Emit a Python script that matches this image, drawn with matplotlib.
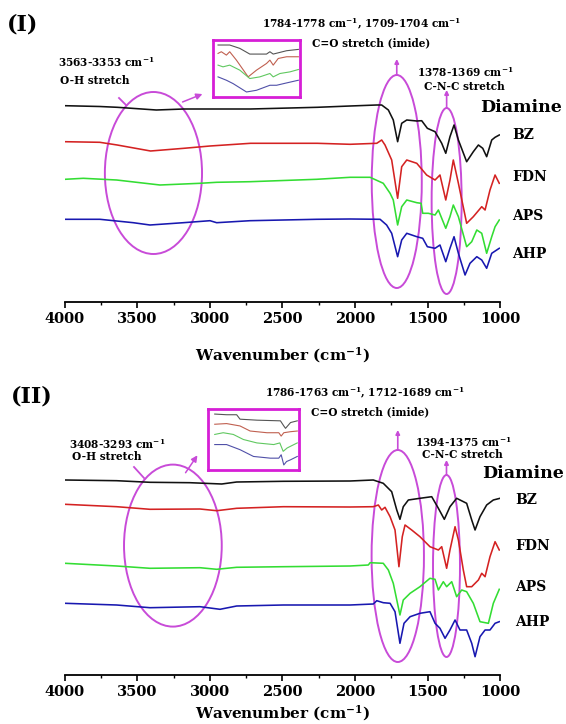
import matplotlib
matplotlib.use("Agg")
import matplotlib.pyplot as plt
from matplotlib.patches import Ellipse, FancyArrowPatch
from matplotlib.ticker import MultipleLocator

plt.rcParams["font.family"] = ["DejaVu Serif"]
plt.rcParams["mathtext.default"] = "regular"

# ---------------- FTIR spectra (wavenumber, offset transmittance a.u.) ----------------
# Panel (I)
BZ1_WN = [4000, 3760, 3640, 3370, 3180, 3000, 2720, 2260, 2034, 1850, 1816, 1770, 1736, 1706,
          1678, 1643, 1574, 1540, 1501, 1448, 1402, 1374, 1345, 1317, 1287, 1230, 1184, 1149,
          1119, 1092, 1057, 1034, 1005]
BZ1_T = [196.3, 195.5, 194.7, 192.0, 193.0, 193.0, 193.0, 194.7, 196.0, 197.0, 197.0, 192.0,
         182.0, 160.3, 178.7, 182.0, 181.0, 181.3, 173.7, 170.3, 158.7, 148.7, 165.3, 177.0,
         162.0, 140.3, 150.3, 157.0, 153.7, 145.3, 162.0, 164.7, 167.0]

FDN1_WN = [4000, 3760, 3640, 3410, 3180, 3000, 2720, 2260, 2034, 1850, 1816, 1793, 1747, 1706,
           1678, 1643, 1574, 1506, 1448, 1414, 1374, 1345, 1322, 1287, 1230, 1184, 1126, 1103,
           1069, 1034, 1005]
FDN1_T = [160.3, 159.7, 157.0, 151.0, 153.7, 156.0, 158.7, 158.7, 157.7, 158.7, 162.0, 157.0,
          142.0, 103.7, 135.3, 142.0, 138.7, 127.0, 122.0, 127.0, 102.0, 122.0, 142.0, 118.7,
          78.7, 85.3, 95.3, 92.0, 112.0, 127.0, 118.7]

APS1_WN = [4000, 3874, 3644, 3345, 3069, 2954, 2724, 2264, 2034, 1896, 1805, 1758, 1736, 1706,
           1678, 1643, 1574, 1544, 1533, 1494, 1448, 1425, 1374, 1345, 1322, 1287, 1230, 1195,
           1160, 1126, 1092, 1057, 1034, 1005]
APS1_T = [122.7, 123.7, 122.0, 117.0, 118.7, 119.7, 120.3, 122.7, 124.7, 124.7, 118.7, 108.7,
          102.0, 77.0, 95.3, 102.0, 99.3, 98.7, 88.7, 88.7, 87.0, 92.0, 73.7, 85.3, 97.0, 85.3,
          55.3, 60.3, 72.0, 68.7, 48.7, 65.3, 75.3, 82.0]

AHP1_WN = [4000, 3759, 3529, 3414, 3184, 3000, 2954, 2724, 2264, 2034, 1827, 1782, 1747, 1706,
           1678, 1643, 1574, 1533, 1501, 1448, 1414, 1374, 1345, 1317, 1287, 1241, 1207, 1160,
           1126, 1092, 1057, 1005]
AHP1_T = [82.7, 82.7, 79.3, 77.0, 79.3, 81.3, 79.3, 81.3, 82.7, 83.0, 82.7, 77.0, 68.7, 45.3,
          62.0, 68.7, 65.3, 63.7, 55.3, 53.7, 57.0, 40.3, 53.7, 65.3, 48.7, 27.0, 38.7, 45.3,
          42.0, 33.7, 48.7, 53.7]

# Panel (II)
BZ2_WN = [4000, 3644, 3414, 3138, 2919, 2816, 2494, 2034, 1874, 1805, 1747, 1712, 1690, 1667,
          1632, 1552, 1471, 1425, 1384, 1345, 1299, 1230, 1195, 1172, 1138, 1092, 1046, 1000]
BZ2_T = [195.0, 194.3, 192.7, 192.3, 191.0, 193.0, 193.7, 194.0, 195.0, 191.7, 183.3, 165.0,
         155.7, 168.3, 175.0, 176.7, 178.3, 166.7, 155.7, 168.3, 176.7, 171.7, 155.0, 145.0,
         158.3, 170.0, 175.0, 176.7]

FDN2_WN = [4000, 3644, 3414, 3069, 2954, 2816, 2494, 2034, 1874, 1839, 1816, 1793, 1758, 1724,
           1697, 1674, 1655, 1609, 1552, 1483, 1425, 1402, 1368, 1345, 1310, 1287, 1253, 1230,
           1195, 1149, 1126, 1103, 1069, 1034, 1005]
FDN2_T = [170.7, 168.3, 165.7, 166.0, 164.3, 166.7, 168.3, 168.0, 168.3, 170.0, 165.0, 167.7,
          158.3, 145.0, 108.3, 138.3, 150.0, 145.0, 138.3, 128.3, 125.0, 128.3, 106.7, 125.0,
          148.3, 135.0, 105.0, 88.3, 88.3, 95.0, 101.7, 98.3, 118.3, 133.3, 125.0]

APS2_WN = [4000, 3644, 3414, 3069, 2954, 2816, 2494, 2034, 1908, 1896, 1805, 1770, 1736, 1690,
           1667, 1620, 1552, 1483, 1448, 1425, 1391, 1368, 1333, 1299, 1264, 1230, 1184, 1138,
           1080, 1046, 1005]
APS2_T = [111.7, 109.0, 106.7, 107.3, 105.7, 107.7, 108.3, 109.0, 110.0, 112.3, 111.7, 105.0,
          91.7, 60.0, 75.0, 81.7, 88.3, 96.7, 95.7, 85.0, 93.3, 88.3, 93.3, 78.3, 85.0, 83.3,
          71.7, 53.3, 51.7, 71.7, 85.7]

AHP2_WN = [4000, 3644, 3414, 3069, 2931, 2816, 2494, 2034, 1874, 1850, 1805, 1758, 1724, 1690,
           1662, 1620, 1552, 1483, 1448, 1414, 1379, 1345, 1310, 1276, 1230, 1195, 1172, 1138,
           1103, 1069, 1034, 1005]
AHP2_T = [71.7, 70.0, 67.3, 68.3, 65.7, 69.0, 70.0, 70.0, 71.0, 74.3, 72.3, 71.7, 63.3, 31.7,
          51.7, 58.3, 61.7, 63.3, 51.7, 46.7, 36.7, 45.0, 55.0, 45.0, 45.0, 31.7, 18.3, 38.3,
          45.0, 45.0, 51.7, 53.3]

# Magnified O-H region shown in the insets (normalised position, normalised signal)
INS1_BZ_U = [0.058, 0.192, 0.308, 0.423, 0.615, 0.654, 0.692, 0.846, 0.981]
INS1_BZ_V = [0.912, 0.912, 0.853, 0.753, 0.753, 0.794, 0.753, 0.812, 0.835]
INS1_FDN_U = [0.058, 0.096, 0.154, 0.192, 0.269, 0.404, 0.5, 0.615, 0.654, 0.692, 0.75, 0.846, 0.981]
INS1_FDN_V = [0.765, 0.794, 0.735, 0.794, 0.647, 0.353, 0.471, 0.588, 0.647, 0.559, 0.676, 0.706, 0.706]
INS1_APS_U = [0.058, 0.115, 0.192, 0.308, 0.423, 0.538, 0.654, 0.692, 0.769, 0.885, 0.981]
INS1_APS_V = [0.559, 0.529, 0.559, 0.471, 0.324, 0.353, 0.412, 0.353, 0.412, 0.441, 0.482]
INS1_AHP_U = [0.058, 0.154, 0.231, 0.385, 0.5, 0.654, 0.731, 0.846, 0.981]
INS1_AHP_V = [0.353, 0.294, 0.235, 0.088, 0.118, 0.206, 0.206, 0.247, 0.294]

INS2_BZ_U = [0.074, 0.204, 0.315, 0.352, 0.537, 0.796, 0.833, 0.852, 0.907, 0.981]
INS2_BZ_V = [0.917, 0.906, 0.906, 0.833, 0.817, 0.806, 0.722, 0.683, 0.778, 0.806]
INS2_FDN_U = [0.074, 0.204, 0.352, 0.463, 0.648, 0.778, 0.804, 0.833, 0.907, 0.981]
INS2_FDN_V = [0.75, 0.761, 0.722, 0.639, 0.611, 0.611, 0.556, 0.611, 0.628, 0.639]
INS2_APS_U = [0.074, 0.167, 0.278, 0.389, 0.537, 0.722, 0.789, 0.826, 0.87, 0.907, 0.981]
INS2_APS_V = [0.583, 0.611, 0.583, 0.5, 0.444, 0.417, 0.444, 0.306, 0.361, 0.389, 0.444]
INS2_AHP_U = [0.074, 0.204, 0.352, 0.5, 0.685, 0.778, 0.804, 0.833, 0.863, 0.907, 0.981]
INS2_AHP_V = [0.417, 0.417, 0.333, 0.222, 0.194, 0.194, 0.25, 0.083, 0.139, 0.167, 0.222]

DIAMINES = ["BZ", "FDN", "APS", "AHP"]
TICKS = [4000, 3500, 3000, 2500, 2000, 1500, 1000]

# ---------------- styling ----------------
COLORS = ["#111111", "#D42222", "#33DD33", "#1818B0"]
INSET_COLORS = ["#555555", "#C06050", "#60C860", "#5050A8"]
MAG = "#C84BD8"
BOX = "#D61ED6"

W, H = 566, 724
fig = plt.figure(figsize=(W / 100, H / 100), dpi=100)


def fig_xy(x, y):
    return x / W, 1 - y / H


def panel_axes(top, bottom):
    ax = fig.add_axes([65 / W, 1 - bottom / H, 435 / W, (bottom - top) / H])
    ax.set_xlim(4000, 1000)
    ax.set_ylim(0, bottom - top)
    for s in ("left", "right", "top"):
        ax.spines[s].set_visible(False)
    ax.spines["bottom"].set_linewidth(1.3)
    ax.set_yticks([])
    ax.set_xticks(TICKS)
    ax.set_xticklabels([str(t) for t in TICKS])
    ax.xaxis.set_minor_locator(MultipleLocator(250))
    ax.tick_params(axis="x", which="major", direction="out", length=4, width=1.2,
                   labelsize=10.5, pad=3)
    ax.tick_params(axis="x", which="minor", direction="out", length=2.5, width=1.0)
    for lbl in ax.get_xticklabels():
        lbl.set_fontweight("bold")
    return ax


def inset(box, series):
    x0, y0, x1, y1 = box
    ia = fig.add_axes([x0 / W, 1 - y1 / H, (x1 - x0) / W, (y1 - y0) / H])
    ia.set_xlim(0, 1)
    ia.set_ylim(0, 1)
    ia.set_xticks([])
    ia.set_yticks([])
    for s in ia.spines.values():
        s.set_color(BOX)
        s.set_linewidth(2.0)
    for (u, v), c in zip(series, INSET_COLORS):
        ia.plot(u, v, color=c, lw=0.8)
    return ia


def ftext(x, y, s, **kw):
    kw.setdefault("fontsize", 7.6)
    kw.setdefault("fontweight", "bold")
    kw.setdefault("va", "center")
    fig.text(*fig_xy(x, y), s, **kw)


def arrow_fig(p0, p1):
    fig.add_artist(FancyArrowPatch(
        (p0[0] / W, 1 - p0[1] / H), (p1[0] / W, 1 - p1[1] / H),
        transform=fig.transFigure, arrowstyle="-|>", mutation_scale=9,
        color=MAG, lw=1.1))


def draw_panel(ax, spectra, ellipses, arrows):
    for (wn, t), c in zip(spectra, COLORS):
        ax.plot(wn, t, color=c, lw=1.15)
    for (cx, cy, w, h) in ellipses:
        ax.add_patch(Ellipse((cx, cy), w, h, fill=False, edgecolor=MAG, lw=1.4,
                             clip_on=False))
    for (wn, h0, h1) in arrows:
        ax.annotate("", xy=(wn, h1), xytext=(wn, h0), annotation_clip=False,
                    arrowprops=dict(arrowstyle="-|>", color=MAG, lw=1.2, mutation_scale=6,
                                    shrinkA=0, shrinkB=0))


# ---------------- panel (I) ----------------
ax1 = panel_axes(20, 302)
draw_panel(ax1,
           [(BZ1_WN, BZ1_T), (FDN1_WN, FDN1_T), (APS1_WN, APS1_T), (AHP1_WN, AHP1_T)],
           [(3390, 129, 670, 162), (1712, 120.5, 345, 213), (1368, 101, 207, 186)],
           [(1712, 227, 243), (1368, 194, 212)])
ax1.set_xlabel("Wavenumber (cm$^{-1}$)", fontsize=11, fontweight="bold")
ax1.xaxis.set_label_coords(0.5, -0.155)

inset((213, 40, 300, 97), [(INS1_BZ_U, INS1_BZ_V), (INS1_FDN_U, INS1_FDN_V),
                           (INS1_APS_U, INS1_APS_V), (INS1_AHP_U, INS1_AHP_V)])
arrow_fig((180, 103), (205, 93))
fig.add_artist(plt.Line2D([119 / W, 126 / W], [1 - 98 / H, 1 - 105 / H], color=MAG, lw=1.3))

ftext(7, 25, "(I)", fontsize=16, ha="left")
ftext(362, 24, "1784-1778 cm$^{-1}$, 1709-1704 cm$^{-1}$", ha="center")
ftext(371, 43, "C=O stretch (imide)", ha="center")
ftext(58, 62, "3563-3353 cm$^{-1}$", ha="left")
ftext(60, 81, "O-H stretch", ha="left")
ftext(465, 72, "1378-1369 cm$^{-1}$", ha="center")
ftext(464, 86, "C-N-C stretch", ha="center")
ftext(480, 108, "Diamine", fontsize=12.5, ha="left")
for name, y in zip(DIAMINES, [135, 177, 216, 254]):
    ftext(512, y, name, fontsize=10, ha="left")

# ---------------- panel (II) ----------------
ax2 = panel_axes(390, 675)
draw_panel(ax2,
           [(BZ2_WN, BZ2_T), (FDN2_WN, FDN2_T), (APS2_WN, APS2_T), (AHP2_WN, AHP2_T)],
           [(3256, 129.4, 674, 162), (1705, 119, 361, 212), (1369, 109, 186, 182)],
           [(1705, 225, 245), (1369, 200, 215)])
ax2.set_xlabel("Wavenumber (cm$^{-1}$)", fontsize=11, fontweight="bold")
ax2.xaxis.set_label_coords(0.5, -0.098)

inset((208, 409, 299, 470), [(INS2_BZ_U, INS2_BZ_V), (INS2_FDN_U, INS2_FDN_V),
                             (INS2_APS_U, INS2_APS_V), (INS2_AHP_U, INS2_AHP_V)])
arrow_fig((184, 475), (199, 453))
fig.add_artist(plt.Line2D([134 / W, 144 / W], [1 - 467 / H, 1 - 478 / H], color=MAG, lw=1.3))

ftext(11, 396, "(II)", fontsize=16, ha="left")
ftext(365, 393, "1786-1763 cm$^{-1}$, 1712-1689 cm$^{-1}$", ha="center")
ftext(370, 412, "C=O stretch (imide)", ha="center")
ftext(69, 444, "3408-3293 cm$^{-1}$", ha="left")
ftext(72, 457, "O-H stretch", ha="left")
ftext(463, 442, "1394-1375 cm$^{-1}$", ha="center")
ftext(462, 455, "C-N-C stretch", ha="center")
ftext(482, 473, "Diamine", fontsize=12.5, ha="left")
for name, y in zip(DIAMINES, [500, 546, 587, 622]):
    ftext(515, y, name, fontsize=10, ha="left")

fig.savefig("out.png", dpi=100)
